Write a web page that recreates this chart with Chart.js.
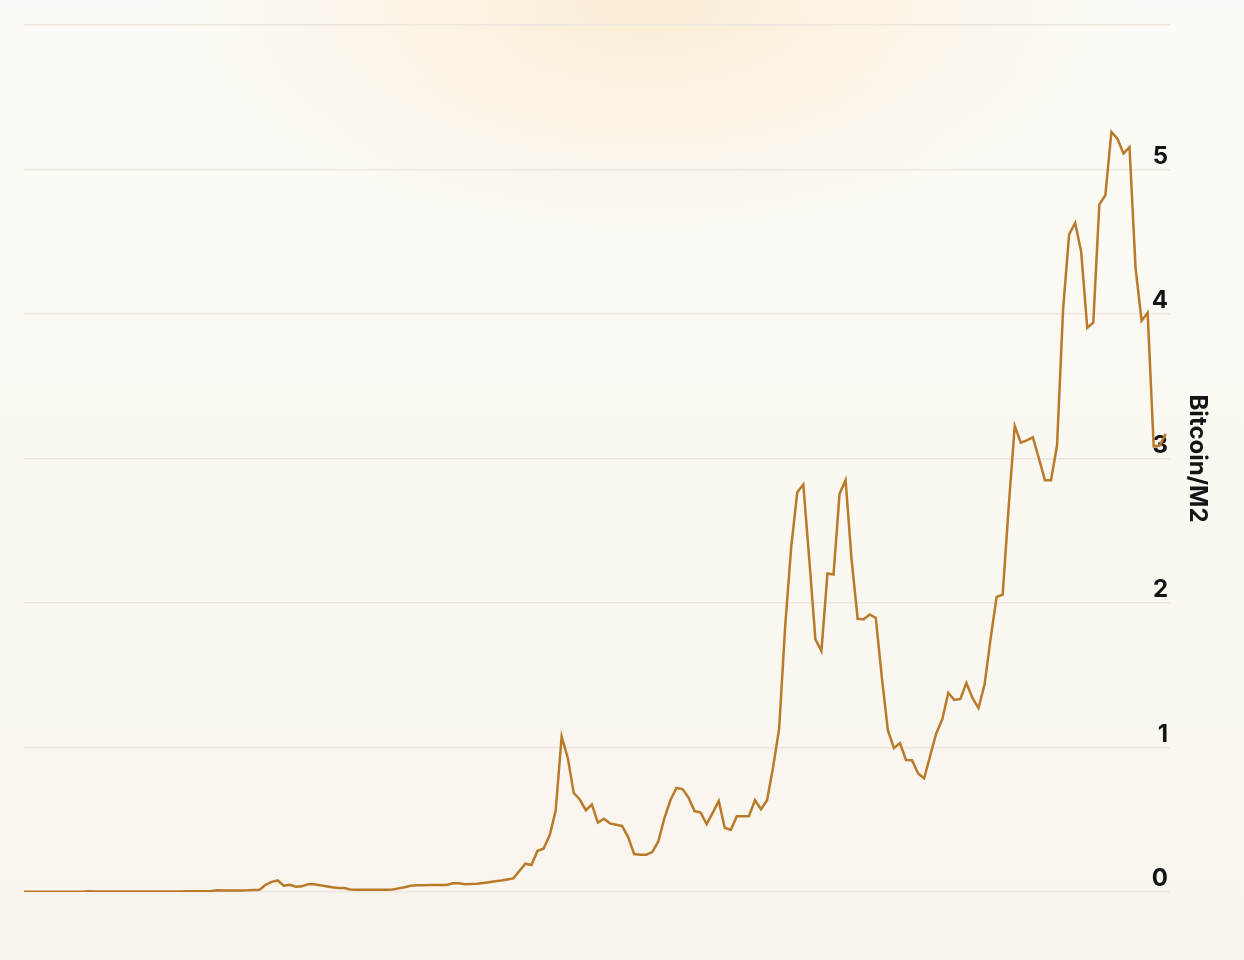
<!DOCTYPE html>
<html>
<head>
<meta charset="utf-8">
<script src="https://cdn.jsdelivr.net/npm/chart.js@4.4.1/dist/chart.umd.min.js"></script>
<style>
  html, body { margin: 0; padding: 0; }
  body {
    width: 1244px; height: 960px; overflow: hidden;
    background:
      radial-gradient(ellipse 480px 240px at 52% 0%, rgba(250,236,210,0.95) 0%, rgba(250,238,215,0.55) 45%, rgba(250,240,222,0) 100%),
      linear-gradient(180deg, #FDFBF7 0%, #FBF8F2 50%, #F9F5EE 100%);
  }
  #wrap { position: absolute; left: 0; top: 0; width: 1244px; height: 960px; }
</style>
</head>
<body>
<div id="wrap"><canvas id="c"></canvas></div>
<script>
const ratioValues = [
  0.001,0.001,0.001,0.001,0.001,0.001,0.002,0.002,0.002,0.002,
  0.003,0.005,0.004,0.003,0.003,0.003,0.003,0.003,0.003,0.003,
  0.003,0.003,0.003,0.003,0.003,0.004,0.004,0.005,0.005,0.005,
  0.005,0.007,0.012,0.011,0.010,0.010,0.011,0.012,0.014,0.015,
  0.050,0.070,0.080,0.044,0.050,0.037,0.039,0.053,0.053,0.046,
  0.040,0.033,0.028,0.027,0.018,0.015,0.016,0.015,0.016,0.015,
  0.016,0.017,0.025,0.033,0.043,0.047,0.047,0.048,0.048,0.048,
  0.048,0.060,0.060,0.053,0.055,0.057,0.062,0.068,0.074,0.080,
  0.087,0.094,0.145,0.196,0.187,0.285,0.300,0.390,0.560,1.075,
  0.930,0.685,0.640,0.566,0.605,0.480,0.507,0.475,0.466,0.457,
  0.380,0.263,0.258,0.258,0.276,0.350,0.510,0.635,0.720,0.712,
  0.653,0.560,0.550,0.470,0.548,0.630,0.445,0.430,0.525,0.525,
  0.525,0.635,0.573,0.635,0.863,1.130,1.840,2.389,2.766,2.820,
  2.296,1.748,1.667,2.204,2.197,2.755,2.850,2.296,1.891,1.887,
  1.921,1.896,1.486,1.120,0.995,1.030,0.914,0.912,0.820,0.787,
  0.942,1.097,1.194,1.377,1.329,1.336,1.447,1.343,1.273,1.435,
  1.752,2.042,2.058,2.667,3.226,3.110,3.125,3.146,3.000,2.850,
  2.850,3.090,4.030,4.550,4.630,4.430,3.905,3.940,4.757,4.822,
  5.260,5.213,5.111,5.155,4.317,3.954,4.009,3.084,3.090,3.170
];
const yTickValues = [0, 1, 2, 3, 4, 5, 6];
const yTickLabels = ['0', '1', '2', '3', '4', '5', ''];
const axisTitle = 'Bitcoin/M2';

const points = ratioValues.map((v, i) => ({ x: i, y: v }));

new Chart(document.getElementById('c'), {
  type: 'line',
  data: {
    datasets: [{
      data: points,
      borderColor: '#B97A2A',
      borderWidth: 2.5,
      pointRadius: 0,
      pointHoverRadius: 0,
      tension: 0,
      fill: false,
      borderJoinStyle: 'miter'
    }]
  },
  options: {
    responsive: true,
    maintainAspectRatio: false,
    animation: false,
    devicePixelRatio: 1,
    layout: { padding: { left: 24, top: 25, bottom: 68, right: 28.6 } },
    plugins: { legend: { display: false }, tooltip: { enabled: false } },
    scales: {
      x: {
        type: 'linear',
        min: 0,
        max: 189.7,
        display: false
      },
      y: {
        position: 'right',
        min: 0,
        max: 6,
        afterBuildTicks: (scale) => { scale.ticks = yTickValues.map(v => ({ value: v })); },
        border: { display: false },
        grid: { color: '#ECE6DC', lineWidth: 1.5, drawTicks: false },
        ticks: {
          mirror: true,
          padding: -2,
          labelOffset: -13,
          color: '#141414',
          font: { family: 'Inter', size: 24, weight: '700' },
          callback: (v) => { const k = yTickValues.indexOf(v); return k >= 0 ? yTickLabels[k] : ''; }
        },
        title: {
          display: true,
          text: axisTitle,
          color: '#141414',
          font: { family: 'Inter', size: 24, weight: '700' },
          padding: { top: 3.8, bottom: 16.8 }
        }
      }
    }
  }
});
</script>
</body>
</html>
